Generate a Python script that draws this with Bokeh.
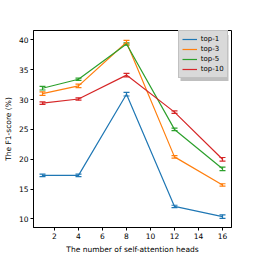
from bokeh.plotting import figure
from bokeh.models import (ColumnDataSource, Whisker, TeeHead, FixedTicker,
                          Legend, LegendItem, Range1d, BoxAnnotation)
from bokeh.embed import file_html
from bokeh.resources import INLINE

heads = [1, 4, 8, 12, 16]
series_names = ["top-1", "top-3", "top-5", "top-10"]
top1 = [17.3, 17.3, 30.9, 12.1, 10.4]
top1_err = [0.2, 0.2, 0.3, 0.2, 0.3]
top3 = [31.0, 32.3, 39.6, 20.4, 15.7]
top3_err = [0.3, 0.3, 0.3, 0.2, 0.2]
top5 = [31.9, 33.4, 39.3, 25.0, 18.4]
top5_err = [0.3, 0.2, 0.2, 0.2, 0.3]
top10 = [29.4, 30.1, 34.1, 27.9, 20.0]
top10_err = [0.2, 0.2, 0.3, 0.2, 0.3]
x_ticks = [2, 4, 6, 8, 10, 12, 14, 16]
y_ticks = [10, 15, 20, 25, 30, 35, 40]
x_label = "The number of self-attention heads"
y_label = "The F1-score (%)"

colors = ["#1f77b4", "#ff7f0e", "#2ca02c", "#d62728"]
values = [top1, top3, top5, top10]
errors = [top1_err, top3_err, top5_err, top10_err]

FONT = "DejaVu Sans"
FS = "7.5px"

p = figure(width=256, height=256, output_backend="svg", toolbar_location=None,
           x_range=Range1d(0.25, 16.75), y_range=Range1d(8.57, 41.57),
           min_border_left=32, min_border_right=25, min_border_top=30,
           min_border_bottom=29)
p.xgrid.visible = False
p.ygrid.visible = False
p.outline_line_color = "black"
p.outline_line_width = 1
p.background_fill_color = "white"
p.border_fill_color = "white"

for ax in (p.xaxis[0], p.yaxis[0]):
    ax.axis_line_color = "black"
    ax.major_tick_line_color = "black"
    ax.minor_tick_line_color = None
    ax.major_tick_out = 3
    ax.major_tick_in = 0
    ax.major_label_text_font = FONT
    ax.major_label_text_font_size = FS
    ax.major_label_text_color = "black"
    ax.axis_label_text_font = FONT
    ax.axis_label_text_font_size = FS
    ax.axis_label_text_font_style = "normal"
    ax.axis_label_text_color = "black"
    ax.major_label_standoff = 2
    ax.axis_label_standoff = 3
p.xaxis.ticker = FixedTicker(ticks=x_ticks)
p.yaxis.ticker = FixedTicker(ticks=y_ticks)
p.xaxis.axis_label = x_label
p.yaxis.axis_label = y_label

items = []
for name, vals, errs, c in zip(series_names, values, errors, colors):
    src = ColumnDataSource(dict(
        x=heads, y=vals,
        lo=[v - e for v, e in zip(vals, errs)],
        hi=[v + e for v, e in zip(vals, errs)]))
    ln = p.line("x", "y", source=src, line_color=c, line_width=1.2)
    w = Whisker(base="x", lower="lo", upper="hi", source=src,
                line_color=c, line_width=1.2,
                upper_head=TeeHead(size=6, line_color=c, line_width=1.2),
                lower_head=TeeHead(size=6, line_color=c, line_width=1.2))
    p.add_layout(w)
    empty = ColumnDataSource(dict(x=[], y=[]))
    mk = p.scatter("x", "y", source=empty, marker="line", size=8,
                   line_color=c, line_width=1.5)
    items.append(LegendItem(label=name, renderers=[ln, mk]))

# legend drop shadow (screen units, relative to the plot frame)
shadow = BoxAnnotation(left=147, right=195, top=192.5, bottom=146.5,
                       left_units="screen", right_units="screen",
                       top_units="screen", bottom_units="screen",
                       fill_color="#7f7f7f", fill_alpha=0.5, line_color=None)
p.add_layout(shadow)

legend = Legend(items=items, location=(144.7, 149))
legend.margin = 0
legend.padding = 3
legend.spacing = 0
legend.glyph_height = 10
legend.glyph_width = 15
legend.label_height = 10
legend.label_standoff = 4
legend.label_text_font = FONT
legend.label_text_font_size = "7px"
legend.label_text_color = "black"
legend.background_fill_color = "#d9d9d9"
legend.background_fill_alpha = 1.0
legend.border_line_color = "#aaaaaa"
legend.border_line_width = 1
p.add_layout(legend)

open("out.html", "w").write(file_html(p, INLINE))
